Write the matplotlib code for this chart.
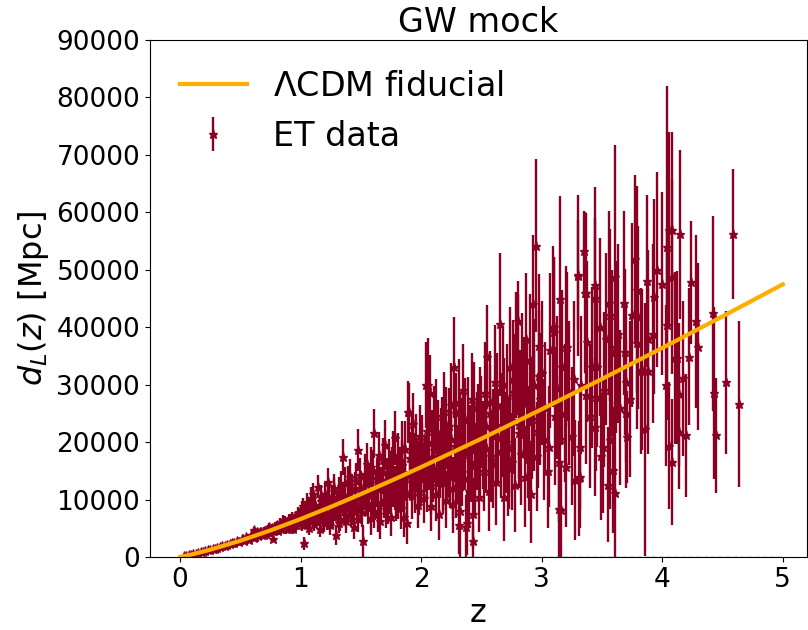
import matplotlib
matplotlib.use("Agg")
import matplotlib.pyplot as plt
import numpy as np

# Fiducial LCDM curve, z and d_L in Mpc
fid_z = [0.0, 0.1, 0.25, 0.5, 0.75, 1.0, 1.25, 1.5, 1.75, 2.0, 2.5, 3.0, 3.5, 4.0, 4.5, 5.0]
fid_dl = [0, 460, 1267, 2832, 4629, 6607, 8722, 10949, 13262, 15649, 20594, 25716, 30992, 36384, 41884, 47464]

# ET mock points: redshift, d_L [10^3 Mpc], 1-sigma error [10^3 Mpc]
et_z = [
    0.03, 0.05, 0.07, 0.09, 0.11, 0.13, 0.15, 0.17, 0.19, 0.21, 0.23, 0.25, 0.27, 0.29, 0.31, 0.33,
    0.35, 0.37, 0.39, 0.41, 0.43, 0.45, 0.47, 0.49,
    0.51, 0.52, 0.53, 0.55, 0.57, 0.59, 0.61, 0.61, 0.63, 0.64, 0.65, 0.66, 0.68, 0.70, 0.71, 0.73,
    0.74, 0.75, 0.76, 0.77, 0.78, 0.80, 0.81, 0.83, 0.84, 0.85, 0.86, 0.87, 0.89, 0.90, 0.92, 0.93,
    0.94, 0.95, 0.96, 0.98, 0.99,
    1.00, 1.01, 1.02, 1.03, 1.04, 1.05, 1.06, 1.07, 1.08, 1.09, 1.10, 1.11, 1.12, 1.13, 1.14, 1.15,
    1.16, 1.17, 1.18, 1.19, 1.20, 1.21, 1.22, 1.23, 1.24, 1.25, 1.26, 1.27, 1.28, 1.29, 1.30, 1.31,
    1.32, 1.33, 1.34, 1.35, 1.36, 1.37, 1.38, 1.39, 1.40, 1.41, 1.42, 1.43, 1.44, 1.45, 1.46, 1.47,
    1.48, 1.49,
    1.50, 1.51, 1.52, 1.53, 1.54, 1.55, 1.56, 1.57, 1.58, 1.59, 1.60, 1.61, 1.62, 1.63, 1.64, 1.65,
    1.66, 1.67, 1.68, 1.69, 1.70, 1.71, 1.72, 1.73, 1.74, 1.75, 1.76, 1.77, 1.78, 1.79, 1.80, 1.81,
    1.82, 1.83, 1.84, 1.85, 1.86, 1.87, 1.88, 1.89, 1.90, 1.91, 1.92, 1.93, 1.94, 1.95, 1.96, 1.97,
    1.98, 1.99,
    2.00, 2.01, 2.02, 2.03, 2.04, 2.05, 2.06, 2.07, 2.08, 2.09, 2.10, 2.11, 2.12, 2.13, 2.14, 2.15,
    2.16, 2.17, 2.18, 2.19, 2.20, 2.21, 2.22, 2.23, 2.24, 2.25, 2.26, 2.27, 2.28, 2.29, 2.30, 2.31,
    2.31, 2.32, 2.33, 2.34, 2.35, 2.36, 2.37, 2.38, 2.39, 2.40, 2.41, 2.42, 2.43, 2.43, 2.44, 2.45,
    2.46, 2.47, 2.48, 2.49,
    2.50, 2.52, 2.53, 2.54, 2.55, 2.56, 2.57, 2.58, 2.60, 2.61, 2.62, 2.63, 2.65, 2.66, 2.67, 2.68,
    2.69, 2.70, 2.71, 2.72, 2.73, 2.74, 2.75, 2.76, 2.77, 2.78, 2.79, 2.80, 2.80, 2.81, 2.82, 2.83,
    2.84, 2.86, 2.87, 2.88, 2.89, 2.90, 2.91, 2.92, 2.93, 2.94, 2.95, 2.96, 2.97, 2.98, 2.99,
    3.00, 3.02, 3.03, 3.05, 3.06, 3.07, 3.09, 3.10, 3.10, 3.11, 3.13, 3.14, 3.14, 3.15, 3.15, 3.16,
    3.17, 3.19, 3.20, 3.20, 3.21, 3.23, 3.25, 3.27, 3.28, 3.30, 3.30, 3.31, 3.32, 3.32, 3.33, 3.35,
    3.36, 3.37, 3.37, 3.38, 3.40, 3.42, 3.44, 3.44, 3.44, 3.45, 3.46, 3.48, 3.49,
    3.51, 3.52, 3.53, 3.55, 3.56, 3.57, 3.57, 3.58, 3.59, 3.61, 3.61, 3.62, 3.63, 3.65, 3.68, 3.69,
    3.70, 3.70, 3.71, 3.73, 3.75, 3.77, 3.79, 3.79, 3.80, 3.82, 3.83, 3.86, 3.87, 3.88, 3.88, 3.92,
    3.93, 3.96,
    4.00, 4.03, 4.04, 4.04, 4.06, 4.06, 4.08, 4.08, 4.08, 4.11, 4.12, 4.14, 4.14, 4.15, 4.17, 4.20,
    4.22, 4.24, 4.28, 4.30, 4.42, 4.43, 4.45, 4.53, 4.59, 4.64,
]
et_dl = [
    0.13, 0.225, 0.33, 0.41, 0.52, 0.60, 0.73, 0.80, 0.95, 1.01, 1.15, 1.23, 1.40, 1.45, 1.65, 1.68,
    1.90, 1.95, 2.15, 2.18, 2.40, 2.45, 2.70, 2.65,
    3.1, 3.2, 2.8, 3.4, 3.0, 3.8, 3.3, 4.7, 4.1, 4.4, 3.6, 4.3, 3.8, 4.6, 4.0, 4.9,
    5.2, 4.2, 5.1, 3.2, 4.5, 5.6, 4.6, 5.9, 4.8, 6.4, 5.2, 6.2, 5.0, 6.5, 5.4, 6.9,
    4.9, 5.6, 7.0, 5.9, 7.4,
    7.8, 5.5, 8.9, 2.4, 6.1, 9.5, 6.8, 5.0, 8.2, 10.3, 7.0, 5.8, 9.0, 6.5, 12.2, 7.6,
    4.9, 9.7, 8.3, 6.0, 11.0, 7.3, 9.1, 13.1, 5.6, 8.5, 10.4, 7.0, 12.0, 3.8, 9.4, 8.0,
    11.3, 6.6, 10.0, 17.4, 8.7, 12.8, 6.2, 10.8, 9.2, 14.0, 7.5, 11.6, 5.3, 9.9, 13.2, 8.4,
    18.6, 10.5,
    12.0, 7.8, 2.8, 14.5, 10.1, 16.2, 8.6, 12.9, 6.7, 11.4, 15.0, 21.5, 9.5, 13.6, 7.4, 17.8,
    6.3, 12.2, 14.8, 10.0, 19.5, 8.3, 13.4, 16.4, 11.0, 7.0, 15.2, 12.5, 20.8, 9.8, 14.0, 17.2,
    11.8, 8.5, 16.0, 13.0, 7.0, 18.8, 5.9, 25.3, 25.2, 14.4, 10.6, 23.2, 16.8, 12.0, 19.7, 9.0,
    15.5, 21.0,
    13.5, 18.0, 10.2, 16.2, 29.9, 12.5, 29.9, 28.6, 8.8, 20.0, 14.6, 23.5, 11.0, 17.5, 21.4, 7.5,
    15.5, 21.7, 12.8, 25.4, 18.5, 10.0, 16.8, 22.8, 14.0, 26.5, 9.2, 33.0, 19.3, 12.2, 17.0, 27.0,
    5.6, 8.0, 21.0, 14.8, 29.1, 18.2, 5.3, 5.9, 24.0, 11.5, 16.0, 20.5, 2.8, 7.5, 26.0, 13.5,
    18.8, 22.5, 10.5, 17.2,
    23.5, 15.0, 28.5, 19.0, 34.8, 11.5, 25.0, 17.5, 21.0, 30.5, 13.0, 26.5, 40.5, 18.5, 23.0, 30.2,
    10.5, 20.0, 27.5, 15.5, 16.9, 33.0, 16.6, 23.9, 28.8, 12.5, 35.2, 41.1, 35.2, 21.5, 26.0, 18.0,
    31.5, 14.0, 38.0, 26.8, 20.0, 34.3, 11.0, 24.0, 44.0, 30.0, 54.2, 17.5, 22.0, 36.8, 27.5,
    32.0, 20.5, 26.0, 15.0, 19.2, 36.0, 40.1, 39.2, 40.0, 24.5, 29.5, 8.4, 16.6, 44.9, 20.5, 8.2,
    33.0, 25.0, 36.6, 15.7, 36.6, 28.5, 21.0, 31.0, 13.4, 49.0, 49.1, 13.7, 14.0, 19.2, 30.0, 53.2,
    46.0, 45.9, 28.2, 37.5, 24.5, 33.0, 22.7, 47.4, 45.0, 27.9, 33.1, 40.0, 17.5,
    19.2, 29.1, 37.9, 12.6, 44.2, 20.4, 42.1, 35.5, 15.1, 11.2, 48.8, 36.6, 38.9, 26.0, 44.2, 35.7,
    25.0, 30.4, 20.9, 27.5, 42.1, 51.9, 46.5, 37.2, 41.7, 32.4, 32.6, 22.2, 48.0, 32.4, 37.9, 38.9,
    45.3, 50.0,
    47.6, 29.9, 54.0, 40.4, 19.4, 56.9, 48.8, 16.5, 57.0, 34.6, 34.7, 21.8, 28.3, 56.2, 31.1, 21.2,
    34.9, 47.8, 41.0, 36.6, 42.4, 28.5, 21.2, 30.4, 56.2, 26.6,
]
et_err = [
    0.01, 0.02, 0.03, 0.04, 0.045, 0.055, 0.065, 0.075, 0.09, 0.10, 0.11, 0.12, 0.14, 0.15, 0.17, 0.18,
    0.20, 0.21, 0.23, 0.25, 0.27, 0.28, 0.30, 0.32,
    0.35, 0.36, 0.38, 0.40, 0.42, 0.45, 0.47, 0.60, 0.50, 0.52, 0.52, 0.54, 0.56, 0.60, 0.58, 0.65,
    0.64, 0.62, 0.70, 0.55, 0.68, 0.75, 0.72, 0.80, 0.76, 0.85, 0.82, 0.86, 0.85, 0.90, 0.88, 0.95,
    0.90, 0.95, 1.0, 1.0, 1.1,
    1.2, 1.0, 1.4, 1.1, 1.2, 1.6, 1.3, 1.2, 1.5, 1.8, 1.4, 1.3, 1.7, 1.5, 2.0, 1.6,
    1.4, 1.9, 1.7, 1.6, 2.1, 1.8, 2.0, 2.4, 1.7, 2.0, 2.2, 1.9, 2.5, 1.8, 2.2, 2.0,
    2.6, 2.0, 2.4, 3.2, 2.3, 2.8, 2.1, 2.6, 2.5, 3.0, 2.3, 2.8, 2.2, 2.6, 3.1, 2.5,
    3.6, 2.8,
    3.0, 2.6, 2.8, 3.4, 3.0, 3.6, 2.9, 3.3, 2.8, 3.2, 3.6, 4.2, 3.1, 3.5, 3.0, 4.0,
    3.2, 3.5, 3.8, 3.3, 4.4, 3.3, 3.8, 4.1, 3.6, 3.3, 4.0, 3.8, 4.7, 3.6, 4.0, 4.4,
    3.9, 3.6, 4.3, 4.1, 3.6, 4.8, 3.7, 5.4, 5.1, 4.4, 4.0, 5.3, 4.7, 4.3, 5.2, 4.0,
    4.7, 5.4,
    4.6, 5.0, 4.3, 4.9, 7.5, 4.6, 8.2, 6.5, 4.3, 5.6, 5.0, 6.2, 4.7, 5.4, 6.0, 4.5,
    5.3, 6.2, 5.1, 6.8, 5.8, 5.0, 5.7, 6.6, 5.4, 7.2, 5.0, 8.8, 6.3, 5.5, 6.0, 7.5,
    5.0, 8.0, 6.7, 6.0, 8.0, 6.5, 5.5, 5.6, 7.4, 6.0, 6.5, 7.0, 3.0, 6.0, 8.0, 6.4,
    7.2, 7.6, 6.2, 7.0,
    8.0, 7.0, 9.0, 7.8, 9.0, 7.0, 8.5, 8.0, 8.3, 9.8, 7.5, 9.0, 12.5, 8.3, 9.0, 10.0,
    7.8, 8.8, 9.6, 8.3, 8.5, 10.5, 8.5, 9.5, 10.0, 8.2, 11.0, 7.0, 10.5, 9.5, 10.0, 9.0,
    11.0, 8.8, 11.4, 10.5, 9.8, 11.5, 8.5, 10.5, 12.0, 11.5, 15.0, 9.5, 10.0, 12.5, 11.5,
    12.5, 10.5, 11.5, 10.0, 10.5, 13.5, 14.0, 13.0, 12.0, 12.0, 12.5, 9.0, 10.5, 18.0, 11.0, 8.2,
    13.5, 12.0, 14.0, 10.5, 13.0, 12.5, 12.0, 13.5, 10.5, 14.0, 9.6, 10.0, 9.0, 11.0, 12.0, 7.0,
    14.0, 14.0, 12.0, 14.0, 12.5, 14.0, 12.0, 17.0, 14.0, 13.0, 14.0, 15.5, 11.0,
    11.5, 13.5, 15.0, 10.0, 16.0, 12.0, 15.0, 14.5, 11.0, 16.0, 23.0, 15.0, 15.5, 13.5, 16.0, 14.5,
    13.0, 14.0, 8.0, 13.5, 16.0, 14.6, 18.0, 15.0, 16.0, 14.5, 14.0, 22.0, 15.0, 14.5, 15.5, 15.5,
    17.0, 17.0,
    16.0, 14.0, 28.0, 16.5, 11.0, 17.0, 17.0, 11.0, 17.0, 15.0, 15.0, 10.0, 12.5, 14.7, 13.5, 10.7,
    12.0, 10.7, 15.0, 14.5, 17.0, 15.0, 10.0, 12.5, 11.3, 14.5,
]

# Extra ET points in the crowded band (same units)
et_z_b = [
    0.605, 0.625, 0.645, 0.675, 0.695, 0.725, 0.745, 0.785, 0.805, 0.825, 0.855, 0.875, 0.895, 0.915,
    0.935, 0.955, 0.975, 0.985, 1.005, 1.015, 1.025, 1.045, 1.065, 1.075, 1.095, 1.105, 1.125, 1.145,
    1.165, 1.185, 1.205, 1.215, 1.235, 1.255, 1.275, 1.295, 1.315, 1.335, 1.355, 1.375, 1.395, 1.415,
    1.435, 1.455, 1.475, 1.495, 1.505, 1.525, 1.545, 1.565, 1.585, 1.605, 1.625, 1.645, 1.665, 1.685,
    1.705, 1.725, 1.745, 1.765, 1.785, 1.805, 1.825, 1.845, 1.865, 1.885, 1.905, 1.925, 1.945, 1.965,
    1.985, 2.005, 2.025, 2.045, 2.065, 2.085, 2.105, 2.125, 2.145, 2.165, 2.185, 2.205, 2.225, 2.245,
    2.265, 2.285, 2.305, 2.325, 2.345, 2.365, 2.385, 2.405, 2.425, 2.445, 2.465, 2.485, 2.515, 2.535,
    2.575, 2.595, 2.635, 2.685, 2.725, 2.765, 2.815, 2.855, 2.895, 2.935, 2.975,
]
et_dl_b = [
    3.9, 3.5, 4.2, 4.4, 3.9, 4.7, 4.1, 5.3, 4.9, 5.5, 5.8, 4.9, 6.1, 6.6,
    5.2, 6.4, 7.6, 6.2, 7.0, 8.4, 6.0, 7.4, 9.0, 6.4, 7.8, 11.0, 8.0, 6.9,
    10.6, 7.1, 9.6, 6.4, 10.2, 7.6, 11.5, 8.6, 6.0, 12.3, 9.5, 7.2, 13.0, 10.2,
    8.0, 12.0, 6.6, 14.2, 9.3, 11.2, 13.4, 10.8, 15.6, 8.0, 12.0, 14.0, 9.4, 16.8,
    11.5, 9.0, 14.6, 17.8, 12.0, 10.2, 15.0, 19.0, 13.8, 11.0, 17.2, 20.2, 13.0, 16.0,
    11.5, 19.5, 14.8, 22.0, 17.0, 12.5, 18.6, 24.5, 15.8, 19.8, 13.5, 23.0, 16.2, 20.5,
    12.0, 25.0, 15.5, 21.8, 18.0, 23.8, 13.8, 19.5, 27.5, 16.5, 21.2, 25.0, 19.5, 22.8,
    27.0, 16.2, 20.8, 25.5, 19.0, 31.0, 23.0, 28.0, 17.0, 25.5, 31.5,
]
et_err_b = [
    0.5, 0.5, 0.55, 0.6, 0.6, 0.65, 0.65, 0.75, 0.75, 0.8, 0.85, 0.85, 0.9, 0.95,
    0.95, 1.0, 1.1, 1.0, 1.2, 1.3, 1.2, 1.3, 1.5, 1.3, 1.5, 1.8, 1.6, 1.5,
    1.9, 1.6, 1.9, 1.7, 2.1, 1.9, 2.3, 2.1, 1.9, 2.6, 2.3, 2.2, 2.8, 2.5,
    2.4, 2.8, 2.3, 3.0, 2.8, 3.0, 3.2, 3.0, 3.5, 2.9, 3.3, 3.6, 3.2, 3.9,
    3.5, 3.3, 3.9, 4.2, 3.8, 3.6, 4.1, 4.6, 4.1, 3.9, 4.6, 5.0, 4.3, 4.7,
    4.2, 5.3, 5.0, 5.9, 5.4, 5.0, 5.7, 6.5, 5.5, 6.1, 5.3, 6.6, 5.9, 6.4,
    5.4, 7.0, 6.1, 6.9, 6.5, 7.3, 6.2, 7.0, 8.0, 6.8, 7.5, 8.0, 7.6, 8.2,
    8.8, 7.6, 8.4, 9.2, 8.6, 10.2, 9.5, 10.3, 9.0, 10.5, 11.5,
]

x_ticks = [0, 1, 2, 3, 4, 5]
y_ticks = [0, 10000, 20000, 30000, 40000, 50000, 60000, 70000, 80000, 90000]

fig = plt.figure(figsize=(8.08, 6.30), dpi=100)
ax = fig.add_axes([0.1856, 0.1159, 0.8130, 0.8206])

z_all = np.concatenate([et_z, et_z_b])
dl = np.concatenate([et_dl, et_dl_b]) * 1000.0
err = np.concatenate([et_err, et_err_b]) * 1000.0
red = "#8b0022"

ax.errorbar(z_all, dl, yerr=err, fmt="*", color=red, ecolor=red,
            markersize=6.5, elinewidth=1.7, capsize=0, label="ET data", zorder=2)
ax.plot(fid_z, fid_dl, color="#ffae00", lw=3, label=r"$\Lambda$CDM fiducial", zorder=3)
ax.hlines(0, 0, 5, colors="#2f6b8f", linestyles="--", lw=1.0, zorder=4)

ax.set_xlim(-0.25, 5.2)
ax.set_ylim(0, 90000)
ax.set_xticks(x_ticks)
ax.set_yticks(y_ticks)
ax.tick_params(labelsize=19)
ax.set_xlabel("z", fontsize=23)
ax.set_ylabel(r"$d_L(z)$ [Mpc]", fontsize=23)
ax.set_title("GW mock", fontsize=24)
ax.legend(loc="upper left", fontsize=24, frameon=False)

fig.savefig("out.png", dpi=100)
